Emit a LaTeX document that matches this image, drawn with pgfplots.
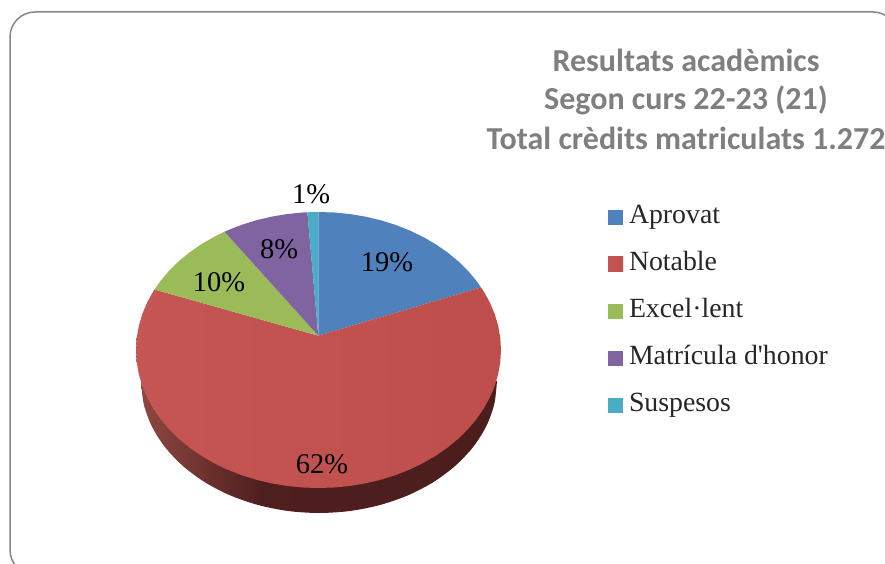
\documentclass[border=0pt]{standalone}
\usepackage{pgfplots}
\pgfplotsset{compat=1.18}
\usepackage{fontspec}
\setmainfont{Liberation Serif}
\newfontfamily\titlefont{Carlito}
\definecolor{cA}{HTML}{4F81BD}
\definecolor{cN}{HTML}{C0504D}
\definecolor{cNl}{HTML}{C65653}
\definecolor{cNr}{HTML}{BD4E4B}
\definecolor{cE}{HTML}{9BBB59}
\definecolor{cM}{HTML}{8064A2}
\definecolor{cS}{HTML}{4BACC6}
\definecolor{frameC}{HTML}{868686}
\definecolor{titleC}{HTML}{7F7F7F}
\pgfdeclarehorizontalshading{wallshade}{100bp}{
  rgb(0bp)=(0.56,0.28,0.26);
  rgb(25bp)=(0.56,0.28,0.26);
  rgb(42bp)=(0.31,0.12,0.12);
  rgb(100bp)=(0.28,0.11,0.11)}
\begin{document}
\begin{tikzpicture}
\useasboundingbox (0,0) rectangle (885pt,564pt);
\begin{axis}[
  at={(0,0)}, anchor=south west,
  scale only axis, width=885pt, height=564pt,
  xmin=0, xmax=885, ymin=0, ymax=564, y dir=reverse,
  axis lines=none, clip=true,
  legend image code/.code={\fill[#1] (0pt,-7.5pt) rectangle (15pt,7.5pt);},
  legend style={
    at={(axis cs:608,205)}, anchor=north west, draw=none, fill=none,
    font=\fontsize{27.8}{27.8}\selectfont, text=black!85,
    inner sep=0pt, outer sep=0pt, row sep=23pt, column sep=6pt,
    nodes={inner sep=0pt, outer sep=0pt, text height=18pt, text depth=6pt},
  },
  legend cell align=left,
]
% chart frame
\draw[frameC, line width=1.5pt, rounded corners=25pt] (axis cs:400,575) -- (axis cs:10,575) -- (axis cs:10,12) -- (axis cs:898,12) -- (axis cs:898,575) -- cycle;
% side wall
\addplot[forget plot, shading=wallshade, draw=none, smooth] coordinates {
(141,381)(143.7,403.9)(151.7,426.1)(164.9,447)(182.7,465.8)(204.6,482.1)(230,495.3)(258.1,505)(288.1,511)(319,513)
(349.9,511)(379.9,505)(408,495.3)(433.4,482.1)(455.3,465.8)(473.1,447)(486.3,426.1)(494.3,403.9)(497,381)};
% Aprovat
\addplot[fill=cA, draw=none] coordinates {
(318.3,335.7)(318.5,212)(334.4,212.5)(350.2,214.1)(365.7,216.7)(380.9,220.3)(395.6,224.9)(409.75,230.5)(423.2,237)(435.8,244.3)(447.5,252.4)(458.3,261.3)(468,270.8)(476.5,281)(481,287.4)} -- cycle;
% Notable
\addplot[left color=cNl, right color=cNr, draw=none] coordinates {
(318.3,335.7)(481,287.4)(483.9,291.7)(490,302.8)(494.8,314.3)(498.2,326)(500.3,338)(501,350)
(500.3,362)(498.2,374)(494.8,385.7)(490,397.2)(483.9,408.3)(476.5,419)(468,429.2)(458.3,438.7)(447.5,447.6)(435.8,455.7)(423.2,463)(409.75,469.5)(395.6,475.1)(380.9,479.7)(365.7,483.3)(350.2,485.9)(334.4,487.5)(318.5,488)
(302.6,487.5)(286.8,485.9)(271.3,483.3)(256.1,479.7)(241.4,475.1)(227.25,469.5)(213.8,463)(201.2,455.7)(189.5,447.6)(178.7,438.7)(169,429.2)(160.5,419)(153.1,408.3)(147,397.2)(142.2,385.7)(138.8,374)(136.7,362)(136,350)
(136.7,338)(138.8,326)(142.2,314.3)(147,302.8)(153.1,291.7)(154.5,289.5)} -- cycle;
% Excel.lent
\addplot[fill=cE, draw=none] coordinates {
(318.3,335.7)(154.5,289.5)(160.5,281)(169,270.8)(178.7,261.3)(189.5,252.4)(201.2,244.3)(213.8,237)(224.5,231.7)} -- cycle;
% Matricula
\addplot[fill=cM, draw=none] coordinates {
(318.3,335.7)(224.5,231.7)(227.25,230.5)(241.4,224.9)(256.1,220.3)(271.3,216.7)(286.8,214.1)(302.6,212.5)(307.4,212.3)} -- cycle;
% Suspesos
\addplot[fill=cS, draw=none] coordinates {
(318.3,335.7)(307.4,212.3)(318.5,212)} -- cycle;
\legend{Aprovat,Notable,Excel·lent,Matrícula d\textquotesingle honor,Suspesos}
% labels
\foreach \x/\y/\t in {387/262/19\%,322/464/62\%,219/282/10\%,279/249/8\%,311/194/1\%}{
  \edef\temp{\noexpand\node[font=\noexpand\fontsize{28.5}{28.5}\noexpand\selectfont,text=black] at (axis cs:\x,\y) {\t};}
  \temp
}
% title
\node[font=\titlefont\bfseries\fontsize{32}{32}\selectfont, text=titleC] at (axis cs:686,60) {Resultats acadèmics};
\node[font=\titlefont\bfseries\fontsize{32}{32}\selectfont, text=titleC] at (axis cs:686,100) {Segon curs 22-23 (21)};
\node[font=\titlefont\bfseries\fontsize{32}{32}\selectfont, text=titleC] at (axis cs:686,138) {Total crèdits matriculats 1.272};
\end{axis}
\end{tikzpicture}
\end{document}
